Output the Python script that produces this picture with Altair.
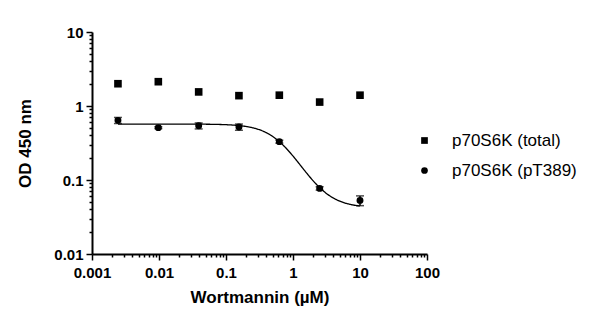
import altair as alt
import pandas as pd

# Data
conc = [0.00244, 0.00977, 0.0391, 0.156, 0.625, 2.5, 10.0]
total_od = [2.00, 2.13, 1.55, 1.38, 1.40, 1.13, 1.40]
total_err = [0.05, 0.05, 0.04, 0.03, 0.03, 0.03, 0.03]
pt389_od = [0.64, 0.51, 0.54, 0.52, 0.33, 0.077, 0.053]
pt389_err = [0.06, 0.015, 0.05, 0.05, 0.015, 0.004, 0.008]
series_names = ["p70S6K (total)", "p70S6K (pT389)"]

# Fitted sigmoidal dose-response parameters
fit_top = 0.57
fit_bottom = 0.042
fit_ic50 = 0.685
fit_hill = 2.0

rows = []
for c, v, e in zip(conc, total_od, total_err):
    rows.append({"conc": c, "od": v, "lo": v - e, "hi": v + e, "series": series_names[0]})
for c, v, e in zip(conc, pt389_od, pt389_err):
    rows.append({"conc": c, "od": v, "lo": v - e, "hi": v + e, "series": series_names[1]})
df = pd.DataFrame(rows)

def minor_vals(lo_exp, hi_exp):
    vals = []
    for e in range(lo_exp, hi_exp):
        for m in range(1, 10):
            vals.append(round(m * 10 ** e, 6))
    vals.append(10 ** hi_exp)
    return vals

is_major = "abs(log(datum.value)/LN10 - round(log(datum.value)/LN10)) < 0.001"

font = "Liberation Sans"

xscale = alt.Scale(type="log", domain=[0.001, 100], nice=False)
yscale = alt.Scale(type="log", domain=[0.01, 10], nice=False)

xaxis = alt.Axis(
    values=minor_vals(-3, 2),
    labelExpr=f"({is_major}) ? format(datum.value, '~g') : ''",
    title="Wortmannin (\u00b5M)",
    grid=False, domainColor="black", domainWidth=2,
    tickColor="black", tickWidth=1.5,
    tickSize={"condition": {"test": is_major, "value": 6}, "value": 3},
    labelFont=font, labelFontWeight="bold", labelFontSize=15, labelColor="black",
    labelPadding=5, labelOverlap=False, labelFlush=False,
    titleFont=font, titleFontWeight="bold", titleFontSize=17, titleColor="black",
    titlePadding=9,
)
yaxis = alt.Axis(
    values=minor_vals(-2, 1),
    labelExpr=f"({is_major}) ? format(datum.value, '~g') : ''",
    title="OD 450 nm",
    grid=False, domainColor="black", domainWidth=2,
    tickColor="black", tickWidth=1.5,
    tickSize={"condition": {"test": is_major, "value": 6}, "value": 3},
    labelFont=font, labelFontWeight="bold", labelFontSize=15, labelColor="black",
    labelPadding=3, labelOverlap=False, labelFlush=False,
    titleFont=font, titleFontWeight="bold", titleFontSize=17, titleColor="black",
    titlePadding=19,
)

base = alt.Chart(df)

points = base.mark_point(filled=True, opacity=1, color="black").encode(
    x=alt.X("conc:Q", scale=xscale, axis=xaxis),
    y=alt.Y("od:Q", scale=yscale, axis=yaxis),
    shape=alt.Shape(
        "series:N",
        scale=alt.Scale(domain=series_names, range=["square", "circle"]),
        legend=alt.Legend(
            title=None, orient="none", legendX=324, legendY=100,
            symbolSize=45, symbolFillColor="black", symbolStrokeColor="black",
            labelFont=font, labelFontSize=17, labelColor="black",
            rowPadding=12, labelOffset=19, symbolOffset=0,
        ),
    ),
    size=alt.condition(f"datum.series == '{series_names[0]}'", alt.value(58), alt.value(48)),
)

err_src = base.transform_filter(f"datum.series == '{series_names[1]}'")
err_rule = err_src.mark_rule(color="black", strokeWidth=1.5).encode(
    x="conc:Q", y="lo:Q", y2="hi:Q"
)
cap_lo = err_src.mark_tick(color="black", orient="horizontal", size=8, thickness=1.5).encode(
    x="conc:Q", y="lo:Q"
)
cap_hi = err_src.mark_tick(color="black", orient="horizontal", size=8, thickness=1.5).encode(
    x="conc:Q", y="hi:Q"
)

curve = (
    alt.Chart(alt.sequence(-2.612, 1.001, 0.01, as_="t"))
    .transform_calculate(
        conc="pow(10, datum.t)",
        od=f"{fit_bottom} + ({fit_top} - {fit_bottom}) / (1 + pow(pow(10, datum.t) / {fit_ic50}, {fit_hill}))",
    )
    .mark_line(color="black", strokeWidth=1.3)
    .encode(x=alt.X("conc:Q"), y=alt.Y("od:Q"))
)

chart = (
    alt.layer(curve, err_rule, cap_lo, cap_hi, points)
    .properties(
        width=335, height=222,
        padding={"left": 92, "top": 32, "right": 173, "bottom": 71},
        autosize=alt.AutoSizeParams(type="none"),
        background="white",
    )
    .configure_view(stroke=None)
)

chart.save("out.html", embed_options={"renderer": "svg", "actions": False})
